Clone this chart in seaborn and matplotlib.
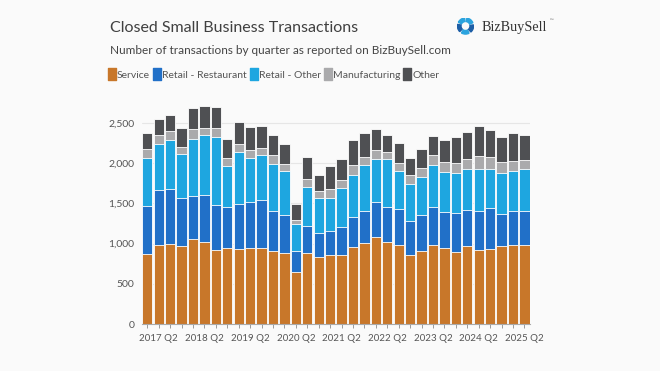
import numpy as np
import pandas as pd
import matplotlib
matplotlib.use("Agg")
import matplotlib.pyplot as plt
from matplotlib.lines import Line2D
from matplotlib.patches import Wedge
from matplotlib.path import Path
import seaborn as sns

years = list(range(2017, 2026))
quarters = [f"{y} Q{q}" for y in years for q in range(1, 5)][:34]

service = [870, 980, 1000, 974, 1052, 1017, 918, 940, 932, 942, 940, 914, 882, 651, 880, 839, 854,
           861, 952, 1006, 1084, 1018, 989, 857, 906, 977, 942, 897, 965, 920, 930, 972, 982, 982]
restaurant = [603, 688, 682, 590, 543, 593, 557, 520, 557, 572, 597, 497, 473, 257, 340, 288, 298,
              352, 385, 397, 431, 435, 439, 430, 447, 484, 448, 489, 450, 491, 516, 403, 429, 418]
retail_other = [588, 573, 609, 547, 708, 741, 857, 510, 647, 555, 568, 584, 555, 332, 488, 447, 422,
                484, 517, 580, 534, 596, 472, 451, 472, 522, 502, 489, 518, 514, 479, 510, 491, 523]
manufacturing = [114, 112, 105, 93, 120, 91, 106, 93, 103, 100, 84, 110, 87, 54, 102, 83, 106,
                 95, 129, 99, 116, 91, 107, 120, 112, 120, 121, 124, 122, 167, 147, 131, 126, 120]
other = [201, 193, 202, 238, 266, 274, 259, 234, 273, 285, 274, 246, 238, 194, 262, 191, 280,
         265, 306, 290, 256, 211, 241, 212, 236, 240, 276, 323, 337, 367, 337, 308, 346, 310]

categories = ["Service", "Retail - Restaurant", "Retail - Other", "Manufacturing", "Other"]
colors = ["#c8772a", "#2170c8", "#1ea6e0", "#aaaaac", "#4f5053"]
yticks = [0, 500, 1000, 1500, 2000, 2500]

df = pd.DataFrame({"quarter": quarters, "Service": service, "Retail - Restaurant": restaurant,
                   "Retail - Other": retail_other, "Manufacturing": manufacturing, "Other": other})
cum = df[categories].cumsum(axis=1)

bg = "#fafafa"
sns.set_theme(style="white")
plt.rcParams["font.family"] = ["Lato", "DejaVu Sans"]

fig = plt.figure(figsize=(6.6, 3.71), dpi=100, facecolor=bg)
ax = fig.add_axes([141.6 / 660, 47 / 371, 388.6 / 660, 221 / 371], facecolor=bg)

for cat, col in reversed(list(zip(categories, colors))):
    sns.barplot(x=df["quarter"], y=cum[cat], order=quarters, color=col, width=0.9,
                edgecolor="white", linewidth=0.6, saturation=1, ax=ax, zorder=2)

ax.set_xlim(-0.5, len(quarters) - 0.5)
ax.set_ylim(0, 2750)
ax.set_yticks(yticks)
ax.set_yticklabels([f"{v:,}" for v in yticks], fontsize=7.5, color="#555555")
ax.yaxis.grid(True, color="#e6e6e6", linewidth=0.8, zorder=0)
ax.set_axisbelow(True)
ax.set_xticks(range(len(quarters)))
ax.set_xticklabels([q if q.endswith("Q2") else "" for q in quarters], fontsize=7, color="#555555")
ax.tick_params(axis="x", length=3, width=0.7, color="#999999", pad=4, bottom=True)
ax.tick_params(axis="y", length=0, pad=5)
ax.set_xlabel("")
ax.set_ylabel("")
for s in ["top", "right", "left"]:
    ax.spines[s].set_visible(False)
ax.spines["bottom"].set_color("#aaaaaa")
ax.spines["bottom"].set_linewidth(0.8)

fig.text(110 / 660, 1 - 28.5 / 371, "Closed Small Business Transactions", fontsize=11.5,
         color="#404040", va="center", ha="left")
fig.text(110.5 / 660, 1 - 50.5 / 371, "Number of transactions by quarter as reported on BizBuySell.com",
         fontsize=8.5, color="#444444", va="center", ha="left")

rect = Path([(-0.35, -0.5), (0.35, -0.5), (0.35, 0.5), (-0.35, 0.5), (-0.35, -0.5)],
            [Path.MOVETO, Path.LINETO, Path.LINETO, Path.LINETO, Path.CLOSEPOLY])
handles = [Line2D([], [], marker=rect, linestyle="", markersize=9, markerfacecolor=c,
                  markeredgecolor=c) for c in colors]
fig.legend(handles, categories, loc="center left", bbox_to_anchor=(109 / 660, 1 - 75.5 / 371),
           ncol=5, frameon=False, fontsize=7.5, handlelength=0.55, handletextpad=0.2,
           columnspacing=0.4, borderaxespad=0, borderpad=0, labelcolor="#555555")

# logo
lax = fig.add_axes([457 / 660, 1 - 34.5 / 371, 17 / 660, 17 / 371])
lax.set_xlim(-1, 1)
lax.set_ylim(-1, 1)
lax.axis("off")
for k in range(5):
    ang = 90 + k * 72
    col = "#2ba3de" if k % 2 == 0 else "#1d5ea6"
    lax.add_patch(Wedge((0, 0), 0.95, ang + 6, ang + 62, width=0.42, color=col))
fig.text(482 / 660, 1 - 27 / 371, "BizBuySell", fontsize=10.2, family="Liberation Serif",
         color="#333333", va="center", ha="left")
fig.text(549.5 / 660, 1 - 20 / 371, "™", fontsize=3.5, color="#666666", va="center", ha="left")

fig.savefig("out.png", dpi=100, facecolor=bg)
